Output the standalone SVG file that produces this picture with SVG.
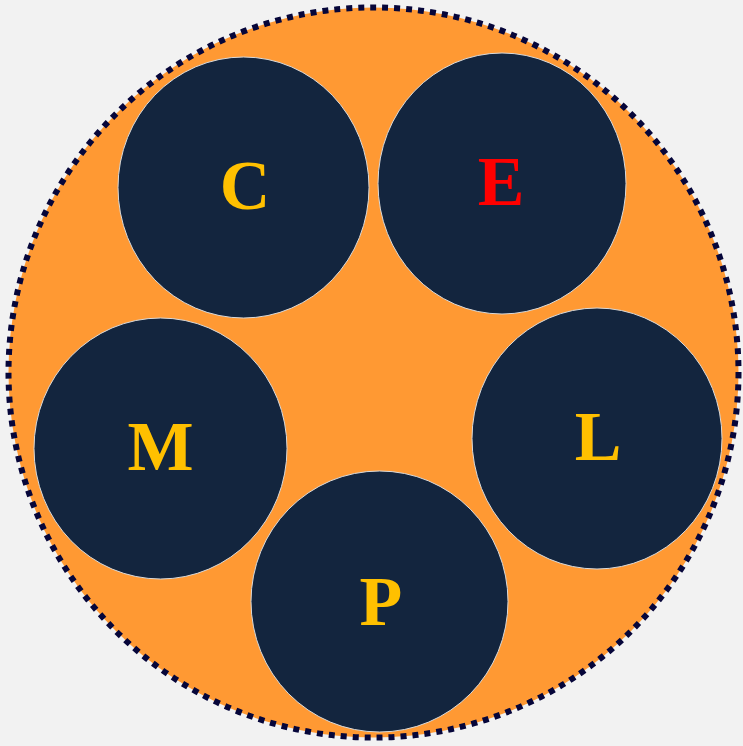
<svg xmlns="http://www.w3.org/2000/svg" width="743" height="746" viewBox="0 0 743 746">
<style>
.node{fill:#13253e;stroke:#d9d9d9;stroke-width:1}
.lbl{font-family:"Liberation Serif","Times New Roman",serif;font-weight:bold;font-size:70px;text-anchor:middle;fill:#ffc000}
</style>
<rect width="743" height="746" fill="#f2f2f2"/>
<g id="outer">
<circle cx="373.5" cy="372.5" r="365" fill="#ff9933" stroke="#06063a" stroke-width="6" stroke-dasharray="6 6"/>
</g>
<g id="connectors"></g>
<g id="node-C"><ellipse class="node" cx="243.5" cy="187.5" rx="125.5" ry="130.5"/><text class="lbl" x="245" y="209">C</text></g>
<g id="node-E"><ellipse class="node" cx="502" cy="183.5" rx="124" ry="130.5"/><text class="lbl" x="501" y="205" style="fill:#ff0000">E</text></g>
<g id="node-M"><ellipse class="node" cx="160.5" cy="448.5" rx="126.5" ry="130.5"/><text class="lbl" x="160.5" y="470">M</text></g>
<g id="node-L"><ellipse class="node" cx="597" cy="438.5" rx="125" ry="130.5"/><text class="lbl" x="598" y="460">L</text></g>
<g id="node-P"><ellipse class="node" cx="379.5" cy="601.5" rx="128.5" ry="130.5"/><text class="lbl" x="381" y="625">P</text></g>
</svg>
